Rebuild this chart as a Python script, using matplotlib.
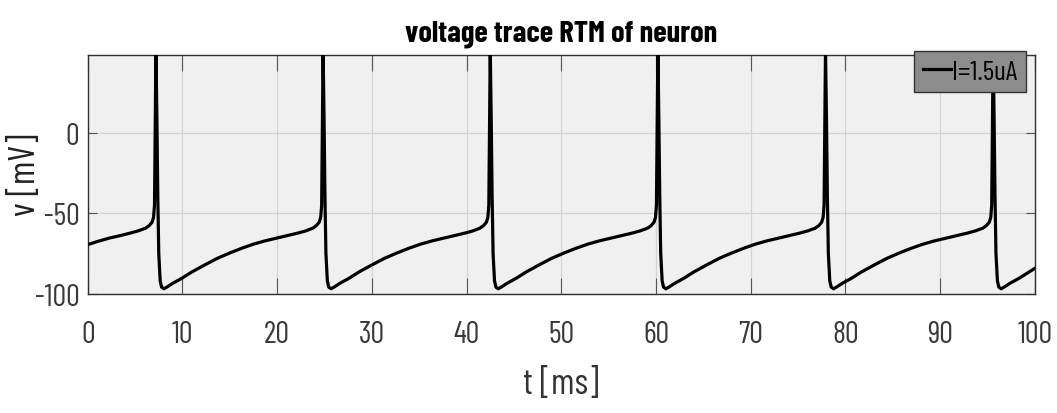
import matplotlib
matplotlib.use("Agg")
import matplotlib.pyplot as plt

# membrane voltage of the RTM neuron
t_ms = [
    0.0, 1.0, 2.3, 3.5, 4.5, 5.3, 6.1, 6.5, 6.8, 6.95, 7.05, 7.12,
    7.2, 7.3, 7.4, 7.5, 7.65, 7.8, 8.05, 8.4, 9.0, 9.9, 11.0, 12.4,
    13.7, 15.0, 16.2, 17.5, 18.7, 20.0, 21.2, 22.2, 23.0,
    23.75, 24.15, 24.45, 24.6, 24.7, 24.77,
    24.85, 24.95, 25.05, 25.15, 25.3, 25.45, 25.7, 26.05, 26.65, 27.55, 28.65, 30.05,
    31.35, 32.65, 33.85, 35.15, 36.35, 37.65, 38.85, 39.85, 40.65,
    41.4, 41.8, 42.1, 42.25, 42.35, 42.42,
    42.5, 42.6, 42.7, 42.8, 42.95, 43.1, 43.35, 43.7, 44.3, 45.2, 46.3, 47.7,
    49.0, 50.3, 51.5, 52.8, 54.0, 55.3, 56.5, 57.5, 58.3,
    59.1, 59.5, 59.8, 59.95, 60.05, 60.12,
    60.2, 60.3, 60.4, 60.5, 60.65, 60.8, 61.05, 61.4, 62.0, 62.9, 64.0, 65.4,
    66.7, 68.0, 69.2, 70.5, 71.7, 73.0, 74.2, 75.2, 76.0,
    76.8, 77.2, 77.5, 77.65, 77.75, 77.82,
    77.9, 78.0, 78.1, 78.2, 78.35, 78.5, 78.75, 79.1, 79.7, 80.6, 81.7, 83.1,
    84.4, 85.7, 86.9, 88.2, 89.4, 90.7, 91.9, 92.9, 93.7,
    94.5, 94.9, 95.2, 95.35, 95.45, 95.52,
    95.6, 95.7, 95.8, 95.9, 96.05, 96.2, 96.45, 96.8, 97.4, 98.3, 99.4, 100.0,
]
v_mv = [
    -69.5, -67.6, -65.4, -63.8, -62.3, -61.0, -59.3, -57.6, -55.5, -52.5, -45.0, 0.0,
    52.0, 10.0, -40.0, -75.0, -92.0, -96.0, -97.0, -95.8, -93.5, -90.6, -86.5, -82.0,
    -78.0, -74.7, -71.9, -69.2, -67.2, -65.4, -63.8, -62.3, -61.0,
    -59.3, -57.6, -55.5, -52.5, -45.0, 0.0,
    52.0, 10.0, -40.0, -75.0, -92.0, -96.0, -97.0, -95.8, -93.5, -90.6, -86.5, -82.0,
    -78.0, -74.7, -71.9, -69.2, -67.2, -65.4, -63.8, -62.3, -61.0,
    -59.3, -57.6, -55.5, -52.5, -45.0, 0.0,
    52.0, 10.0, -40.0, -75.0, -92.0, -96.0, -97.0, -95.8, -93.5, -90.6, -86.5, -82.0,
    -78.0, -74.7, -71.9, -69.2, -67.2, -65.4, -63.8, -62.3, -61.0,
    -59.3, -57.6, -55.5, -52.5, -45.0, 0.0,
    52.0, 10.0, -40.0, -75.0, -92.0, -96.0, -97.0, -95.8, -93.5, -90.6, -86.5, -82.0,
    -78.0, -74.7, -71.9, -69.2, -67.2, -65.4, -63.8, -62.3, -61.0,
    -59.3, -57.6, -55.5, -52.5, -45.0, 0.0,
    52.0, 10.0, -40.0, -75.0, -92.0, -96.0, -97.0, -95.8, -93.5, -90.6, -86.5, -82.0,
    -78.0, -74.7, -71.9, -69.2, -67.2, -65.4, -63.8, -62.3, -61.0,
    -59.3, -57.6, -55.5, -52.5, -45.0, 0.0,
    52.0, 10.0, -40.0, -75.0, -92.0, -96.0, -97.0, -95.8, -93.5, -90.6, -86.5, -84.3,
]
x_ticks = [0, 10, 20, 30, 40, 50, 60, 70, 80, 90, 100]
y_ticks = [-100, -50, 0]
label = "I=1.5uA"

plt.rcParams["font.family"] = ["Barlow Condensed", "DejaVu Sans"]
plt.rcParams["axes.unicode_minus"] = False

fig = plt.figure(figsize=(10.57, 4.14), dpi=100)
ax = fig.add_axes([0.083, 0.2884, 0.896, 0.5771])
ax.set_facecolor("#f0f0f0")

ax.plot(t_ms, v_mv, color="black", linewidth=2.3, label=label, zorder=3)

ax.set_xlim(0, 100)
ax.set_ylim(-100, 48.75)
ax.set_xticks(x_ticks)
ax.set_yticks(y_ticks)
ax.grid(True, color="#d4d4d4", linewidth=0.9)
ax.set_axisbelow(True)

for s in ax.spines.values():
    s.set_color("#303030")
    s.set_linewidth(1.0)

ax.tick_params(axis="both", direction="in", top=True, right=True,
               colors="#555555", labelcolor="#3a3a3a", labelsize=22, width=0.8)
ax.tick_params(axis="x", length=11.5, pad=19)
ax.tick_params(axis="y", length=6.5, pad=6)

ax.set_title("voltage trace RTM of neuron", fontsize=22, fontweight="bold", pad=10)
ax.set_xlabel("t [ms]", fontsize=26, color="#333333", va="center")
ax.xaxis.set_label_coords(0.5, -0.378)
ax.set_ylabel("v [mV]", fontsize=26, color="#222222", va="center")
ax.yaxis.set_label_coords(-0.066, 0.5)

leg = ax.legend(loc="upper right", bbox_to_anchor=(0.9905, 1.0155), borderaxespad=0,
                fontsize=20, handlelength=1.0, handletextpad=0.06,
                borderpad=0.3, fancybox=False, framealpha=1,
                facecolor="#8c8c8c", edgecolor="#333333")
leg.get_frame().set_linewidth(1.0)

fig.savefig("out.png", dpi=100)
